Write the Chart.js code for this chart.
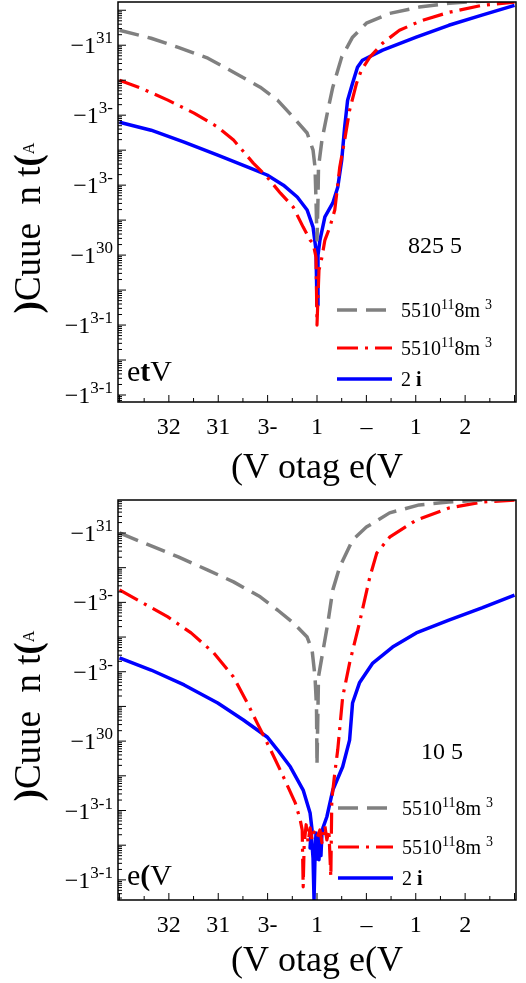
<!DOCTYPE html>
<html>
<head>
<meta charset="utf-8">
<script src="https://cdn.jsdelivr.net/npm/chart.js@4.4.1/dist/chart.umd.min.js"></script>
<style>
  body { margin: 0; background: #fff; }
  canvas { position: absolute; left: 0; display: block; }
</style>
</head>
<body>
<canvas id="topChart" width="526" height="490" style="top:0"></canvas>
<canvas id="bottomChart" width="526" height="493" style="top:490px"></canvas>
<script>
/* ---- axis ticks / labels ---- */
const voltageTicks = [-0.3, -0.2, -0.1, 0, 0.1, 0.2, 0.3];
const voltageTickLabels = ['32', '31', '3-', '1', '–', '1', '2'];
const currentTickExponents = [-1, -3, -5, -7, -9, -11];
const currentTickBase = '−1';
const currentTickSup = ['31', '3-', '3-', '30', '3-1', '3-1'];
// legend labels as [text, kind] runs: 0 normal, 1 superscript, 2 bold
const seriesLabels = [
  [['5510', 0], ['11', 1], ['8m ', 0], ['3', 1]],
  [['5510', 0], ['11', 1], ['8m ', 0], ['3', 1]],
  [['2 ', 0], ['i', 2]]
];
const panelLabels = ['825 5', '10 5'];

/* ---- top panel: voltage (V) and log10 |current| ---- */
const topGrayV = [-0.400,-0.336,-0.281,-0.221,-0.169,-0.115,-0.080,-0.048,-0.020,-0.008,-0.004,-0.002,0.000,0.002,0.003,0.010,0.022,0.032,0.050,0.072,0.100,0.147,0.207,0.267,0.334,0.400];
const topGrayLogI = [-0.57,-0.80,-1.06,-1.37,-1.77,-2.20,-2.57,-3.06,-3.51,-4.00,-4.49,-5.43,-6.57,-5.43,-4.49,-3.71,-2.86,-2.20,-1.34,-0.77,-0.37,-0.09,0.09,0.20,0.26,0.30];

const topRedV = [-0.400,-0.356,-0.302,-0.249,-0.201,-0.169,-0.129,-0.101,-0.074,-0.048,-0.028,-0.014,-0.008,-0.002,0.000,0.004,0.010,0.016,0.026,0.036,0.040,0.046,0.056,0.066,0.080,0.090,0.107,0.133,0.167,0.213,0.267,0.334,0.400];
const topRedLogI = [-2.00,-2.23,-2.57,-2.94,-3.34,-3.71,-4.37,-4.77,-5.23,-5.63,-6.20,-6.57,-6.66,-7.06,-9.00,-7.43,-7.06,-6.57,-6.20,-5.71,-5.23,-4.49,-3.71,-2.86,-2.09,-1.71,-1.34,-0.94,-0.57,-0.29,-0.06,0.14,0.23];

const topBlueV = [-0.400,-0.336,-0.269,-0.201,-0.135,-0.101,-0.068,-0.040,-0.020,-0.008,-0.002,0.000,0.002,0.006,0.016,0.032,0.042,0.050,0.056,0.062,0.072,0.082,0.092,0.133,0.201,0.267,0.334,0.400];
const topBlueLogI = [-3.20,-3.43,-3.77,-4.14,-4.51,-4.71,-5.00,-5.34,-5.71,-6.20,-6.86,-8.43,-7.00,-6.57,-5.91,-5.51,-5.06,-4.29,-3.34,-2.57,-2.09,-1.63,-1.43,-1.14,-0.77,-0.43,-0.14,0.14];

/* ---- bottom panel ---- */
const botGrayV = [-0.400,-0.350,-0.281,-0.221,-0.169,-0.115,-0.080,-0.048,-0.020,-0.010,-0.004,-0.001,0.000,0.002,0.003,0.010,0.022,0.032,0.046,0.072,0.100,0.147,0.207,0.267,0.334,0.400];
const botGrayLogI = [-1.00,-1.29,-1.69,-2.07,-2.41,-2.84,-3.22,-3.59,-4.00,-4.37,-5.15,-6.01,-7.69,-6.01,-5.15,-4.57,-3.59,-2.64,-1.98,-1.20,-0.83,-0.42,-0.19,-0.11,-0.05,-0.02];

const botRedV = [-0.400,-0.356,-0.302,-0.255,-0.209,-0.169,-0.141,-0.121,-0.094,-0.068,-0.044,-0.034,-0.030,-0.028,-0.026,-0.022,-0.018,-0.014,-0.010,-0.006,0.000,0.006,0.010,0.016,0.020,0.024,0.028,0.030,0.036,0.042,0.052,0.066,0.086,0.107,0.121,0.147,0.201,0.267,0.334,0.400];
const botRedLogI = [-2.64,-2.99,-3.42,-3.88,-4.46,-5.15,-5.90,-6.48,-7.25,-8.03,-8.78,-9.27,-9.56,-11.20,-9.99,-9.41,-9.93,-9.50,-9.85,-9.62,-9.79,-9.56,-9.93,-9.44,-9.85,-9.56,-10.91,-8.69,-7.92,-7.25,-5.73,-4.75,-3.59,-2.27,-1.58,-1.12,-0.63,-0.28,-0.11,-0.05];

const botBlueV = [-0.400,-0.336,-0.269,-0.201,-0.149,-0.101,-0.080,-0.054,-0.028,-0.014,-0.010,-0.014,-0.012,-0.008,-0.006,-0.004,-0.002,0.000,0.002,0.004,0.006,0.008,0.010,0.012,0.020,0.032,0.052,0.066,0.072,0.086,0.113,0.153,0.201,0.267,0.334,0.400];
const botBlueLogI = [-4.60,-4.95,-5.38,-5.90,-6.39,-6.88,-7.25,-7.74,-8.41,-9.07,-9.56,-10.08,-9.60,-10.37,-11.58,-10.28,-9.65,-10.40,-9.70,-10.42,-9.75,-10.30,-9.65,-9.50,-9.18,-8.41,-7.74,-6.97,-5.90,-5.32,-4.75,-4.29,-3.88,-3.51,-3.16,-2.79];

const SERIF = '"Liberation Serif", "Times New Roman", serif';
const GRAY = '#808080', RED = '#ff0000', BLUE = '#0000ff';

function toPoints(vs, logs) {
  return vs.map((v, i) => ({ x: v, y: Math.pow(10, logs[i]) }));
}

// runs: [text, font, dy]; align 'left' | 'center' | 'right'
function drawParts(ctx, parts, x, y, align) {
  let w = 0;
  parts.forEach(p => { ctx.font = p[1]; w += ctx.measureText(p[0]).width; });
  let cx = align === 'center' ? x - w / 2 : align === 'right' ? x - w : x;
  parts.forEach(p => { ctx.font = p[1]; ctx.fillText(p[0], cx, y + (p[2] || 0)); cx += ctx.measureText(p[0]).width; });
}

const decorations = {
  id: 'decorations',
  afterDatasetsDraw(chart, args, o) {
    const { ctx, chartArea: a, scales: { x, y } } = chart;
    ctx.save();
    // frame
    ctx.strokeStyle = '#000';
    ctx.lineWidth = 1.5;
    ctx.setLineDash([]);
    ctx.strokeRect(a.left, a.top, a.right - a.left, a.bottom - a.top);
    // inward ticks
    ctx.lineWidth = 1;
    ctx.beginPath();
    for (let i = -8; i <= 8; i++) {
      const px = x.getPixelForValue(i * 0.05);
      if (px <= a.left + 1 || px >= a.right - 1) continue;
      const len = i % 2 === 0 ? 7 : 4;
      ctx.moveTo(px, a.bottom); ctx.lineTo(px, a.bottom - len);
    }
    for (let e = -13; e <= 1; e++) {
      for (let k = 1; k <= 9; k++) {
        const val = k * Math.pow(10, e);
        if (val < y.min || val > y.max) continue;
        const py = y.getPixelForValue(val);
        const len = k === 1 ? 8 : 4;
        ctx.moveTo(a.left, py); ctx.lineTo(a.left + len, py);
      }
    }
    ctx.stroke();

    ctx.fillStyle = '#000';
    ctx.textBaseline = 'alphabetic';
    // y tick labels: base with raised superscript
    y.ticks.forEach((t, i) => {
      const py = y.getPixelForValue(t.value);
      drawParts(ctx, [[currentTickBase, '24px ' + SERIF, 0], [currentTickSup[i], '17px ' + SERIF, -10]],
        a.left - 5, py + 8, 'right');
    });

    // legend
    chart.data.datasets.forEach((ds, i) => {
      const ly = o.legendY[i];
      ctx.strokeStyle = ds.borderColor;
      ctx.lineWidth = ds.borderWidth;
      ctx.setLineDash(ds.borderDash || []);
      ctx.beginPath();
      ctx.moveTo(o.legendX, ly); ctx.lineTo(o.legendX + o.legendLen, ly);
      ctx.stroke();
      ctx.setLineDash([]);
      const parts = seriesLabels[i].map(r => r[1] === 1 ? [r[0], '14px ' + SERIF, -8]
        : [r[0], (r[1] === 2 ? 'bold ' : '') + '20px ' + SERIF, 0]);
      drawParts(ctx, parts, o.legendX + o.legendLen + 9, ly + 7, 'left');
    });

    // panel label and corner label
    ctx.textBaseline = 'middle';
    drawParts(ctx, [[o.panelLabel, '24px ' + SERIF]], o.panelX, o.panelY, 'center');
    drawParts(ctx, o.corner.map((c, j) => [c, (j === 1 ? 'bold ' : '') + '30px ' + SERIF]), a.left + 9, o.cornerY, 'left');

    // y axis title, rotated
    ctx.translate(o.titleX, o.titleY);
    ctx.rotate(-Math.PI / 2);
    drawParts(ctx, [
      [')', 'bold 37px ' + SERIF],
      ['Cuue  n t', '37px ' + SERIF],
      ['(', 'bold 37px ' + SERIF],
      ['A', '16px ' + SERIF]
    ], 0, 0, 'center');
    ctx.restore();
  }
};

function makeChart(id, series, p) {
  return new Chart(document.getElementById(id), {
    type: 'scatter',
    data: {
      datasets: [
        { label: '5510¹¹8m ³', data: series[0], borderColor: GRAY, borderWidth: 3.5, borderDash: [20, 9] },
        { label: '5510¹¹8m ³', data: series[1], borderColor: RED, borderWidth: 3.2, borderDash: [21, 7, 3, 7] },
        { label: '2 i', data: series[2], borderColor: BLUE, borderWidth: 3.5 }
      ].map(d => Object.assign(d, { showLine: true, pointRadius: 0, borderJoinStyle: 'round', clip: 0, tension: 0 }))
    },
    options: {
      responsive: false,
      animation: false,
      devicePixelRatio: 1,
      layout: { padding: { top: p.padTop, right: 10, left: 0, bottom: 0 } },
      plugins: {
        legend: { display: false },
        tooltip: { enabled: false },
        decorations: p.deco
      },
      scales: {
        x: {
          type: 'linear', min: -0.403, max: 0.403,
          afterBuildTicks: s => { s.ticks = voltageTicks.map(v => ({ value: v })); },
          afterFit: s => { s.height = p.xHeight; s.paddingLeft = 0; s.paddingRight = 0; },
          grid: { display: false, drawTicks: false },
          border: { display: false },
          ticks: { autoSkip: false, maxRotation: 0, padding: 11, color: '#000', font: { family: SERIF, size: 24 },
                   callback: (v, i) => voltageTickLabels[i] },
          title: { display: true, text: '(V otag e(V', color: '#000', font: { family: SERIF, size: 36 },
                   padding: { top: 0, bottom: p.titlePad } }
        },
        y: {
          type: 'logarithmic', min: Math.pow(10, p.yMinExp), max: Math.pow(10, p.yMaxExp),
          afterBuildTicks: s => { s.ticks = currentTickExponents.map(e => ({ value: Math.pow(10, e) })); },
          afterFit: s => { s.width = 118; s.paddingTop = 0; s.paddingBottom = 0; },
          grid: { display: false, drawTicks: false },
          border: { display: false },
          ticks: { display: false, autoSkip: false }
        }
      }
    },
    plugins: [decorations]
  });
}

makeChart('topChart',
  [toPoints(topGrayV, topGrayLogI), toPoints(topRedV, topRedLogI), toPoints(topBlueV, topBlueLogI)],
  { padTop: 2, xHeight: 88, titlePad: 0, yMinExp: -11.20, yMaxExp: 0.236,
    deco: { legendX: 337, legendLen: 55, legendY: [310, 348, 379], panelLabel: panelLabels[0], panelX: 435, panelY: 247,
            corner: ['e', 't', 'V'], cornerY: 373, titleX: 30, titleY: 228 } });

makeChart('bottomChart',
  [toPoints(botGrayV, botGrayLogI), toPoints(botRedV, botRedLogI), toPoints(botBlueV, botBlueLogI)],
  { padTop: 10, xHeight: 83, titlePad: 0, yMinExp: -11.58, yMaxExp: -0.049,
    deco: { legendX: 338, legendLen: 55, legendY: [318, 357, 388], panelLabel: panelLabels[1], panelX: 442, panelY: 263,
            corner: ['e', '(', 'V'], cornerY: 387, titleX: 30, titleY: 226 } });
</script>
</body>
</html>
